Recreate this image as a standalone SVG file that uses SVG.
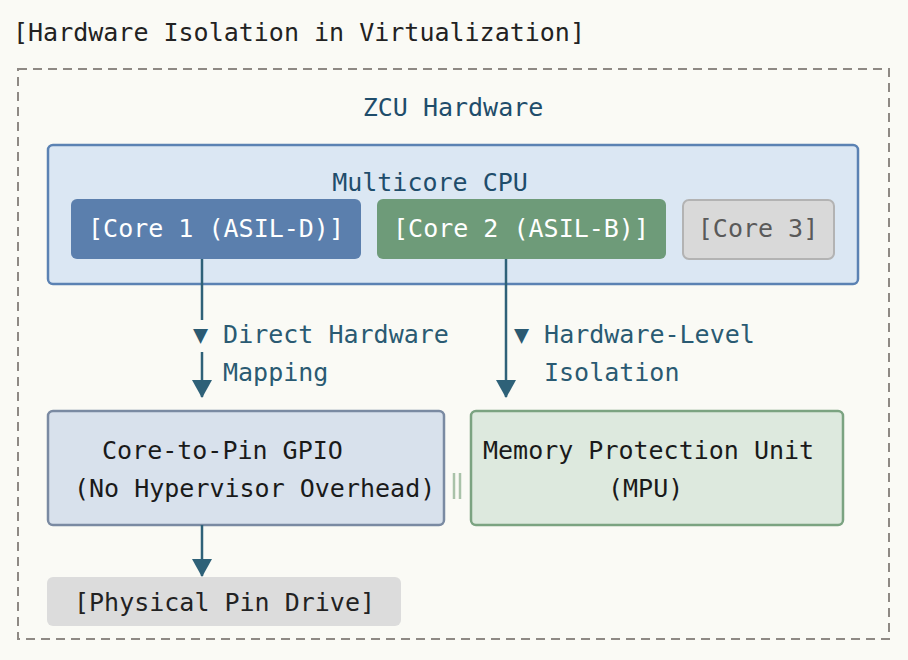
<svg xmlns="http://www.w3.org/2000/svg" width="908" height="660" viewBox="0 0 908 660">
<style>
text{font-family:"DejaVu Sans Mono","Liberation Mono",monospace;font-size:25px}
.title{fill:#222}
.hdr{fill:#1f4d6b}
.lbl{fill:#2a5a72}
.dark{fill:#1a1a1a}
.conn{stroke:#2e6178;stroke-width:2.5;fill:none}
</style>
<defs>
<marker id="ah" markerWidth="18" markerHeight="20" refX="17" refY="10" orient="auto" markerUnits="userSpaceOnUse" viewBox="0 0 18 20">
<path d="M0,0 L18,10 L0,20 Z" fill="#2e6178"/>
</marker>
</defs>
<rect width="908" height="660" fill="#fafaf5"/>
<text class="title" x="13" y="41">[Hardware Isolation in Virtualization]</text>
<g id="zcu">
<rect x="18" y="69" width="871" height="570" fill="none" stroke="#8e8984" stroke-width="2" stroke-dasharray="9 6"/>
<text class="hdr" x="453" y="116" text-anchor="middle">ZCU Hardware</text>
</g>
<g id="cpu">
<rect x="48" y="145" width="810" height="139" rx="5" fill="#dbe7f3" stroke="#5b82b3" stroke-width="2.5"/>
<text class="hdr" x="430" y="191" text-anchor="middle">Multicore CPU</text>
</g>
<g id="core1">
<rect x="71" y="199" width="290" height="60" rx="6" fill="#5b7fad"/>
<text x="216" y="237" text-anchor="middle" fill="#ffffff">[Core 1 (ASIL-D)]</text>
</g>
<g id="core2">
<rect x="377" y="199" width="289" height="60" rx="6" fill="#6e9b79"/>
<text x="521" y="237" text-anchor="middle" fill="#ffffff">[Core 2 (ASIL-B)]</text>
</g>
<g id="core3">
<rect x="683" y="200" width="151" height="59" rx="6" fill="#d9d9d9" stroke="#b3b3b3" stroke-width="2"/>
<text x="758" y="237" text-anchor="middle" fill="#5a5a5a">[Core 3]</text>
</g>
<g id="gpio">
<rect x="48" y="411" width="396" height="114" rx="5" fill="#d8e1ec" stroke="#7a8aa2" stroke-width="2.5"/>
<text class="dark" x="102" y="459">Core-to-Pin GPIO</text>
<text class="dark" x="74" y="497">(No Hypervisor Overhead)</text>
</g>
<g id="mpu">
<rect x="471" y="411" width="372" height="114" rx="5" fill="#dde9de" stroke="#7ba381" stroke-width="2.5"/>
<text class="dark" x="483" y="459">Memory Protection Unit</text>
<text class="dark" x="608" y="497">(MPU)</text>
</g>
<g id="pin">
<rect x="47" y="577" width="354" height="49" rx="6" fill="#dcdcdc"/>
<text x="74" y="611" fill="#222">[Physical Pin Drive]</text>
</g>
<g id="connectors">
<line class="conn" x1="202" y1="259" x2="202" y2="320"/>
<line class="conn" x1="202" y1="352" x2="202" y2="397" marker-end="url(#ah)"/>
<line class="conn" x1="506" y1="259" x2="506" y2="397" marker-end="url(#ah)"/>
<line class="conn" x1="202" y1="525" x2="202" y2="576" marker-end="url(#ah)"/>
<line x1="454" y1="473" x2="454" y2="499" stroke="#a9c2a9" stroke-width="2.5"/>
<line x1="460" y1="473" x2="460" y2="499" stroke="#a9c2a9" stroke-width="2.5"/>
<text class="lbl" x="193" y="343">▼ Direct Hardware</text>
<text class="lbl" x="223" y="381">Mapping</text>
<text class="lbl" x="514" y="343">▼ Hardware-Level</text>
<text class="lbl" x="544" y="381">Isolation</text>
</g>
</svg>
